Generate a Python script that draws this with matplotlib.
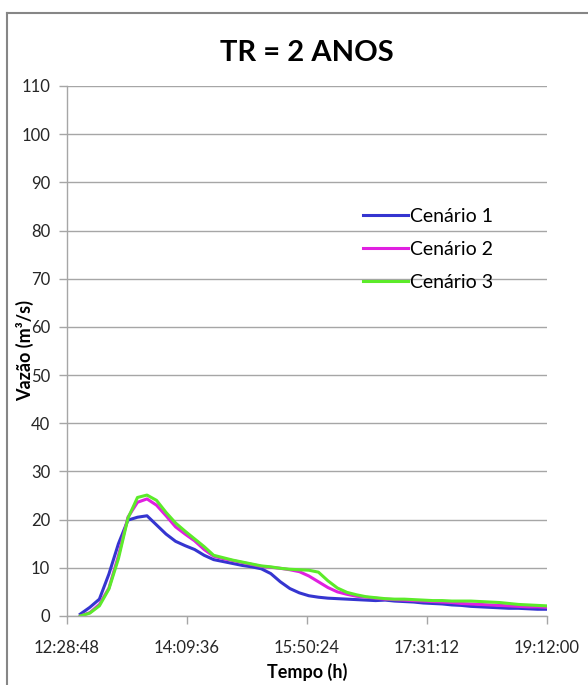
import matplotlib
matplotlib.use('Agg')
import matplotlib.pyplot as plt
import matplotlib.dates as mdates
from matplotlib.lines import Line2D
import pandas as pd

plt.rcParams['font.family'] = ['Lato', 'DejaVu Sans']

# time axis: readings every 8 min from 12:40 to 19:12
tempo = pd.date_range('2000-01-01 12:40:00', '2000-01-01 19:12:00', freq='8min')

cenario1 = [0.4, 1.8, 3.5, 8.7, 15.0, 19.9, 20.5, 20.8, 18.9, 17.0,
            15.5, 14.6, 13.8, 12.6, 11.7, 11.3, 10.9, 10.5, 10.2, 9.8,
            8.8, 7.1, 5.7, 4.8, 4.2, 3.9, 3.7, 3.6, 3.5, 3.4,
            3.3, 3.2, 3.3, 3.1, 3.0, 2.9, 2.7, 2.6, 2.5, 2.3,
            2.2, 2.0, 1.9, 1.8, 1.7, 1.6, 1.6, 1.5, 1.4, 1.4]
cenario2 = [0.0, 0.7, 2.4, 5.8, 12.5, 20.5, 23.6, 24.3, 23.0, 20.8,
            18.5, 17.0, 15.6, 13.8, 12.4, 11.9, 11.5, 11.1, 10.7, 10.3,
            10.1, 9.9, 9.6, 9.2, 8.3, 7.1, 5.9, 5.0, 4.5, 4.1,
            3.9, 3.7, 3.5, 3.4, 3.3, 3.2, 3.1, 3.0, 2.9, 2.8,
            2.6, 2.5, 2.4, 2.3, 2.2, 2.1, 2.0, 1.9, 1.9, 1.8]
cenario3 = [0.0, 0.6, 2.1, 5.6, 11.9, 20.3, 24.6, 25.1, 24.0, 21.5,
            19.3, 17.6, 16.0, 14.4, 12.6, 12.1, 11.6, 11.2, 10.8, 10.4,
            10.2, 9.9, 9.7, 9.6, 9.5, 9.1, 7.3, 5.8, 4.9, 4.4,
            4.0, 3.8, 3.6, 3.5, 3.5, 3.4, 3.3, 3.2, 3.2, 3.1,
            3.1, 3.1, 3.0, 2.9, 2.8, 2.6, 2.4, 2.3, 2.2, 2.1]

x_ticks = ['12:28:48', '14:09:36', '15:50:24', '17:31:12', '19:12:00']
y_ticks = list(range(0, 111, 10))

fig = plt.figure(figsize=(5.88, 6.85), dpi=100)
ax = fig.add_axes([67/588, 69/685, 480/588, 530/685])

ax.plot(tempo, cenario1, color='#3535D0', lw=2.2, label='Cenário 1')
ax.plot(tempo, cenario2, color='#E020E0', lw=2.2, label='Cenário 2')
ax.plot(tempo, cenario3, color='#5CEB2A', lw=2.2, label='Cenário 3')

tick_times = pd.to_datetime(['2000-01-01 ' + t for t in x_ticks])
ax.set_xlim(tick_times[0], tick_times[-1])
ax.set_xticks(tick_times)
ax.xaxis.set_major_formatter(mdates.DateFormatter('%H:%M:%S'))
ax.set_ylim(0, 110)
ax.set_yticks(y_ticks)

ax.grid(axis='y', color='#A6A6A6', lw=1.0)
ax.set_axisbelow(True)
for s in ['top', 'right']:
    ax.spines[s].set_visible(False)
for s in ['left', 'bottom']:
    ax.spines[s].set_color('#A6A6A6')
    ax.spines[s].set_linewidth(1.0)
ax.tick_params(axis='both', colors='#A6A6A6', labelcolor='#262626',
               labelsize=12, length=6, width=1.0, direction='out')
ax.tick_params(axis='x', pad=11)
ax.tick_params(axis='y', pad=6)

ax.set_xlabel('Tempo (h)', fontsize=13, fontweight='bold', labelpad=5)
ax.set_ylabel('Vazão (m³/s)', fontsize=13, fontweight='bold', labelpad=-9)
ax.set_title('TR = 2 ANOS', fontsize=21, fontweight='bold', pad=18)

ax.legend(loc='upper left', bbox_to_anchor=(0.6, 0.785), frameon=False,
          fontsize=14, handlelength=2.3, handletextpad=0.15,
          labelspacing=0.82, borderaxespad=0)

# chart frame: only the top and left edges show in the picture
fig.lines.append(Line2D([7/588, 1.0], [1 - 13/685, 1 - 13/685],
                        transform=fig.transFigure, color='#868686', lw=1.5))
fig.lines.append(Line2D([7/588, 7/588], [0.0, 1 - 13/685],
                        transform=fig.transFigure, color='#868686', lw=1.5))

plt.savefig('out.png', dpi=100)
